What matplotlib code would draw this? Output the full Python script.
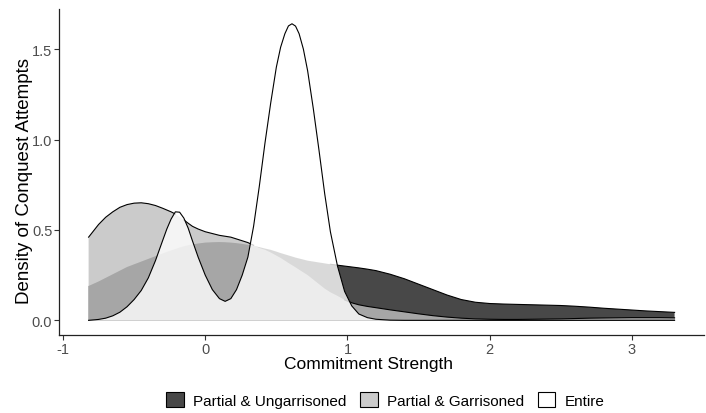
import matplotlib
matplotlib.use('Agg')
import matplotlib.pyplot as plt
import numpy as np
from matplotlib.colors import to_rgba
from matplotlib.patches import Patch

plt.rcParams['font.family'] = ['Liberation Sans', 'DejaVu Sans']
plt.rcParams['axes.unicode_minus'] = False

# commitment strength grid the densities are evaluated on
strength = [-0.82, -0.75, -0.70, -0.65, -0.60, -0.55, -0.50, -0.45, -0.40, -0.35,
            -0.30, -0.27, -0.24, -0.21, -0.18, -0.15, -0.12, -0.09, -0.05, 0.00,
            0.05, 0.10, 0.14, 0.18, 0.22, 0.26, 0.30, 0.34, 0.38, 0.42,
            0.46, 0.50, 0.53, 0.56, 0.585, 0.61, 0.635, 0.66, 0.69, 0.72,
            0.76, 0.80, 0.84, 0.88, 0.93, 0.98, 1.03, 1.08, 1.14, 1.20,
            1.30, 1.40, 1.50, 1.60, 1.70, 1.80, 1.90, 2.00, 2.10, 2.20,
            2.30, 2.40, 2.50, 2.60, 2.70, 2.80, 2.90, 3.00, 3.10, 3.20,
            3.30]

ungarrisoned = [0.190, 0.215, 0.235, 0.255, 0.275, 0.295, 0.310, 0.325, 0.340, 0.355,
                0.370, 0.379, 0.387, 0.395, 0.403, 0.410, 0.416, 0.420, 0.425, 0.430,
                0.432, 0.433, 0.432, 0.430, 0.427, 0.423, 0.418, 0.412, 0.405, 0.397,
                0.390, 0.380, 0.372, 0.365, 0.359, 0.353, 0.347, 0.342, 0.336, 0.330,
                0.325, 0.320, 0.315, 0.310, 0.305, 0.300, 0.295, 0.290, 0.283, 0.275,
                0.255, 0.230, 0.200, 0.170, 0.140, 0.115, 0.100, 0.093, 0.090, 0.088,
                0.086, 0.084, 0.082, 0.078, 0.073, 0.067, 0.062, 0.057, 0.052, 0.048,
                0.044]

garrisoned = [0.460, 0.530, 0.570, 0.600, 0.625, 0.640, 0.648, 0.650, 0.645, 0.635,
              0.620, 0.610, 0.600, 0.588, 0.572, 0.555, 0.537, 0.520, 0.505, 0.490,
              0.480, 0.470, 0.465, 0.460, 0.450, 0.440, 0.430, 0.415, 0.400, 0.390,
              0.375, 0.358, 0.345, 0.330, 0.317, 0.305, 0.293, 0.280, 0.265, 0.250,
              0.225, 0.200, 0.175, 0.155, 0.135, 0.113, 0.097, 0.086, 0.077, 0.070,
              0.058, 0.047, 0.036, 0.026, 0.018, 0.012, 0.008, 0.006, 0.005, 0.005,
              0.006, 0.007, 0.008, 0.010, 0.012, 0.013, 0.014, 0.015, 0.015, 0.015,
              0.014]

entire = [0.000, 0.005, 0.012, 0.025, 0.045, 0.075, 0.115, 0.165, 0.235, 0.330,
          0.440, 0.505, 0.560, 0.600, 0.598, 0.565, 0.510, 0.440, 0.350, 0.250,
          0.170, 0.120, 0.105, 0.120, 0.170, 0.250, 0.350, 0.520, 0.740, 0.980,
          1.200, 1.400, 1.510, 1.585, 1.628, 1.640, 1.627, 1.585, 1.500, 1.380,
          1.170, 0.940, 0.700, 0.490, 0.300, 0.160, 0.080, 0.035, 0.015, 0.006,
          0.001, 0.000, 0.000, 0.000, 0.000, 0.000, 0.000, 0.000, 0.000, 0.000,
          0.000, 0.000, 0.000, 0.000, 0.000, 0.000, 0.000, 0.000, 0.000, 0.000,
          0.000]

groups = ['Partial & Ungarrisoned', 'Partial & Garrisoned', 'Entire']
fills = ['#1a1a1a', '#bfbfbf', '#ffffff']
x_ticks = [-1, 0, 1, 2, 3]
y_ticks = [0.0, 0.5, 1.0, 1.5]
ALPHA = 0.8


def main():
    x = np.array(strength)
    curves = [np.array(ungarrisoned), np.array(garrisoned), np.array(entire)]

    fig, ax = plt.subplots(figsize=(7.06, 4.14), dpi=100)
    fig.subplots_adjust(left=0.084, right=0.997, bottom=0.188, top=0.976)

    for i, (y, fill) in enumerate(zip(curves, fills)):
        ax.fill_between(x, 0, y, facecolor=to_rgba(fill, ALPHA), edgecolor='none',
                        zorder=1 + i)
        # outline only where this curve is not buried under a later one
        top = np.ones(len(x), dtype=bool)
        for other in curves[i + 1:]:
            top &= y >= other
        show = top | np.roll(top, 1) | np.roll(top, -1)
        line = np.where(show, y, np.nan)
        ax.plot(x, line, color='black', lw=0.8, zorder=1.5 + i)

    rng = x.max() - x.min()
    ymax = max(c.max() for c in curves)
    ax.set_xlim(x.min() - 0.05 * rng, x.max() + 0.05 * rng)
    ax.set_ylim(-0.05 * ymax, 1.05 * ymax)

    ax.set_xticks(x_ticks)
    ax.set_xticklabels([str(t) for t in x_ticks])
    ax.set_yticks(y_ticks)
    ax.set_yticklabels(['%.1f' % t for t in y_ticks])

    for side in ['top', 'right']:
        ax.spines[side].set_visible(False)
    for side in ['left', 'bottom']:
        ax.spines[side].set_color('#222222')
        ax.spines[side].set_linewidth(0.9)
    ax.tick_params(axis='both', colors='#333333', labelcolor='#4d4d4d',
                   labelsize=10.5, length=3.5, width=0.8, pad=1.5)

    ax.set_xlabel('Commitment Strength', fontsize=12.5)
    ax.set_ylabel('Density of Conquest Attempts', fontsize=13.5)
    ax.xaxis.set_label_coords(0.479, -0.064)
    ax.yaxis.set_label_coords(-0.041, 0.475)

    handles = [Patch(facecolor=to_rgba(f, ALPHA), edgecolor='black', linewidth=0.8)
               for f in fills]
    fig.legend(handles, groups, loc='center', bbox_to_anchor=(0.546, 0.031),
               ncol=3, frameon=False, fontsize=11, handlelength=1.15,
               handleheight=1.15, handletextpad=0.6, columnspacing=0.9,
               borderaxespad=0)

    fig.savefig('out.png', dpi=100)


if __name__ == '__main__':
    main()
